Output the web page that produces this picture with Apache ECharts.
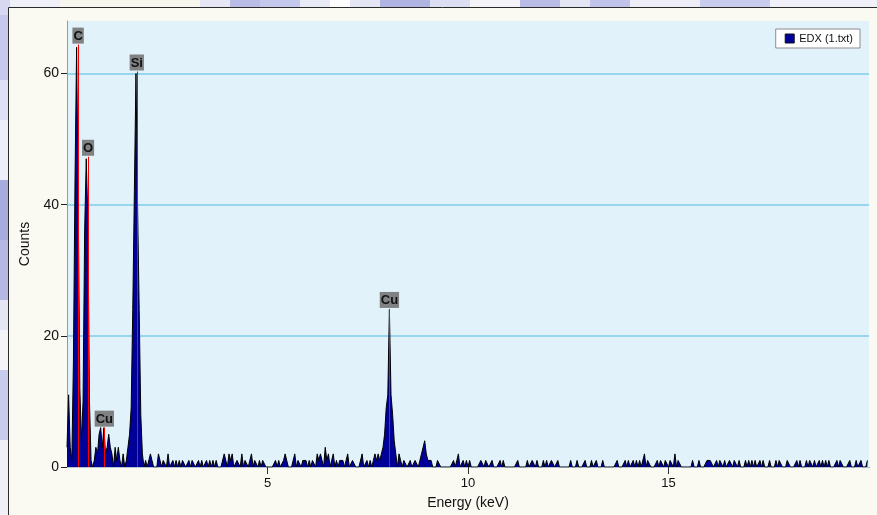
<!DOCTYPE html>
<html>
<head>
<meta charset="utf-8">
<script src="https://cdn.jsdelivr.net/npm/echarts@6/dist/echarts.min.js"></script>
<style>
  html, body { margin: 0; padding: 0; background: #fafaf2; }
  #chart { width: 877px; height: 515px; }
</style>
</head>
<body>
<div id="chart"></div>
<script>
// EDX spectrum: counts per 0.04 keV channel, one row per keV (25 channels each)
const channelWidthKeV = 0.04;
const countsByKeV = [
  [3, 11, 3, 1, 16, 44, 64, 40, 12, 4, 10, 36, 47, 38, 10, 1, 0, 1, 3, 2, 5, 6, 3, 6, 2],
  [3, 5, 3, 2, 0, 3, 1, 3, 1, 0, 2, 0, 1, 3, 5, 9, 24, 42, 60, 40, 24, 8, 2, 0, 1],
  [0, 0, 2, 1, 0, 0, 0, 2, 1, 0, 1, 1, 0, 2, 0, 0, 1, 0, 1, 0, 1, 0, 1, 1, 0],
  [0, 1, 0, 1, 1, 0, 0, 1, 0, 1, 0, 0, 1, 0, 1, 0, 1, 0, 1, 0, 0, 0, 0, 2, 1],
  [0, 2, 1, 2, 0, 0, 1, 1, 0, 2, 0, 1, 1, 0, 0, 2, 0, 1, 1, 0, 1, 0, 1, 1, 0],
  [0, 0, 0, 0, 0, 1, 0, 1, 0, 0, 1, 2, 1, 0, 0, 0, 0, 2, 0, 1, 1, 0, 1, 1, 1],
  [0, 1, 0, 1, 1, 0, 2, 1, 2, 1, 0, 3, 1, 2, 0, 1, 2, 0, 1, 0, 1, 1, 1, 0, 0],
  [2, 0, 0, 1, 1, 0, 0, 0, 0, 2, 0, 0, 1, 0, 1, 0, 1, 2, 1, 2, 1, 2, 3, 5, 9],
  [11, 24, 11, 8, 4, 2, 0, 2, 1, 0, 1, 1, 0, 0, 1, 0, 0, 1, 1, 0, 1, 2, 3, 4, 2],
  [1, 1, 1, 0, 0, 0, 1, 1, 0, 0, 0, 0, 0, 0, 0, 0, 1, 0, 1, 2, 0, 0, 1, 0, 1],
  [0, 1, 0, 0, 0, 0, 0, 0, 1, 1, 0, 1, 1, 0, 0, 1, 0, 0, 0, 0, 1, 0, 1, 0, 0],
  [0, 0, 0, 0, 0, 0, 1, 0, 0, 0, 0, 0, 1, 0, 0, 1, 1, 0, 1, 0, 0, 0, 1, 0, 1],
  [0, 0, 1, 1, 0, 0, 1, 0, 0, 0, 0, 0, 0, 0, 1, 0, 0, 0, 1, 0, 0, 0, 0, 1, 0],
  [0, 0, 1, 0, 0, 1, 0, 0, 0, 1, 0, 0, 0, 0, 0, 0, 0, 0, 1, 0, 0, 0, 0, 1, 0],
  [1, 0, 0, 1, 0, 1, 0, 1, 0, 0, 2, 0, 1, 1, 0, 0, 0, 0, 1, 0, 1, 1, 0, 1, 1],
  [0, 1, 1, 0, 2, 0, 1, 1, 0, 0, 0, 0, 0, 0, 0, 1, 0, 0, 0, 1, 0, 0, 0, 0, 1],
  [1, 1, 1, 0, 0, 1, 0, 1, 1, 0, 1, 0, 0, 1, 1, 0, 1, 1, 0, 1, 0, 0, 0, 1, 0],
  [1, 0, 1, 0, 1, 0, 0, 1, 0, 1, 0, 0, 0, 1, 0, 0, 0, 1, 0, 1, 1, 0, 0, 0, 1],
  [1, 0, 0, 0, 0, 1, 0, 1, 0, 0, 0, 1, 0, 1, 1, 0, 1, 0, 0, 1, 0, 1, 0, 1, 0],
  [1, 0, 0, 0, 0, 1, 0, 1, 1, 0, 0, 0, 0, 1, 0, 0, 0, 1, 0, 0, 1, 0, 0, 0, 1]
];

// Element line markers (keV) with their marker heights (counts)
const peakNames = ['C', 'O', 'Cu', 'Si', 'Cu'];
const peakEnergies = [0.277, 0.525, 0.93, 1.74, 8.04];
const peakHeights = [64.4, 47.3, 6.0, 60.3, 24.1];

const seriesName = 'EDX (1.txt)';
const xTickValues = [5, 10, 15];
const yTickValues = [0, 20, 40, 60];

const spectrum = countsByKeV.flat().map((c, i) => [+(i * channelWidthKeV).toFixed(2), c]);

// Mottled page margin around the chart frame: [x, y, w, h, colour]
const marginBlocks = [
  [0, 0, 10, 7, '#d8d8f0'], [10, 0, 50, 7, '#f0f0f8'], [60, 0, 140, 7, '#f6f6ee'],
  [200, 0, 30, 7, '#e6e6f4'], [230, 0, 30, 7, '#b8bce6'], [260, 0, 40, 7, '#c4c8ec'],
  [300, 0, 30, 7, '#e8eaf6'], [330, 0, 20, 7, '#fdfdfd'], [350, 0, 30, 7, '#e4e6f4'],
  [380, 0, 50, 7, '#b0b4e2'], [430, 0, 40, 7, '#dcdff2'], [470, 0, 50, 7, '#f4f4f8'],
  [520, 0, 40, 7, '#b8bce6'], [560, 0, 30, 7, '#e4e6f4'], [590, 0, 40, 7, '#c0c4ea'],
  [630, 0, 70, 7, '#eeeef8'], [700, 0, 70, 7, '#c8cced'], [770, 0, 107, 7, '#f0f0f8'],
  [0, 7, 8, 8, '#d8d8f0'], [0, 15, 8, 65, '#c8c8ec'], [0, 80, 8, 40, '#e0e0f4'],
  [0, 120, 8, 60, '#eceef8'], [0, 180, 8, 60, '#a8acdc'], [0, 240, 8, 60, '#b4b8e2'],
  [0, 300, 8, 30, '#e4e6f4'], [0, 330, 8, 40, '#f4f4f8'], [0, 370, 8, 70, '#c8ccec'],
  [0, 440, 8, 75, '#eef0f6']
];

const chart = echarts.init(document.getElementById('chart'), null, { renderer: 'canvas' });

const graphic = marginBlocks.map(b => ({
  type: 'rect', silent: true, z: -10,
  shape: { x: b[0], y: b[1], width: b[2], height: b[3] },
  style: { fill: b[4] }
})).concat([
  { type: 'line', silent: true, shape: { x1: 8.5, y1: 7.5, x2: 877, y2: 7.5 }, style: { stroke: '#2a2a2a', lineWidth: 1 } },
  { type: 'line', silent: true, shape: { x1: 8.5, y1: 7.5, x2: 8.5, y2: 515 }, style: { stroke: '#2a2a2a', lineWidth: 1 } }
]);

const option = {
  backgroundColor: '#fafaf2',
  animation: false,
  textStyle: { fontFamily: '"Liberation Sans", Arial, sans-serif', color: '#111' },
  graphic: graphic,
  grid: {
    left: 67, right: 8, top: 21, bottom: 48,
    show: true, backgroundColor: '#e2f2fb', borderWidth: 0
  },
  legend: {
    data: [{ name: seriesName, icon: 'rect' }],
    right: 17, top: 29,
    backgroundColor: '#ffffff', borderColor: '#8c8c8c', borderWidth: 1,
    padding: [4, 7, 4, 9],
    itemWidth: 9, itemHeight: 9, itemGap: 4,
    itemStyle: { color: '#000099', borderColor: '#111', borderWidth: 1 },
    textStyle: { fontSize: 11, color: '#111', padding: [1, 0, 0, 0] },
    selectedMode: false
  },
  xAxis: [
    {
      type: 'value', min: 0, max: 20,
      name: 'Energy (keV)', nameLocation: 'middle', nameGap: 29,
      nameTextStyle: { fontSize: 14, color: '#111' },
      axisLine: { show: true, onZero: false, lineStyle: { color: '#000', width: 1 } },
      axisTick: { show: true, length: 7, customValues: xTickValues, lineStyle: { color: '#333' } },
      axisLabel: { customValues: xTickValues, fontSize: 13, color: '#111', margin: 10 },
      splitLine: { show: false }
    },
    {
      type: 'value', min: 0, max: 20, position: 'top',
      axisLine: { show: true, lineStyle: { color: '#b4c4cc', width: 1 } },
      axisTick: { show: false }, axisLabel: { show: false }, splitLine: { show: false }
    }
  ],
  yAxis: [
    {
      type: 'value', min: 0, max: 68, interval: 20,
      name: 'Counts', nameLocation: 'middle', nameGap: 31, nameRotate: 90,
      nameTextStyle: { fontSize: 14, color: '#111' },
      axisLine: { show: false },
      axisTick: { show: true, length: 6, customValues: yTickValues, lineStyle: { color: '#222' } },
      axisLabel: { customValues: yTickValues, fontSize: 14, color: '#111', margin: 8 },
      splitLine: { show: true, showMinLine: false, showMaxLine: true, lineStyle: { color: '#7dcdea', width: 1.5 } }
    },
    {
      type: 'value', min: 0, max: 68, position: 'right',
      axisLine: { show: true, lineStyle: { color: '#8d9ca5', width: 1 } },
      axisTick: { show: false }, axisLabel: { show: false }, splitLine: { show: false }
    }
  ],
  series: [
    {
      name: seriesName,
      type: 'line',
      data: spectrum,
      showSymbol: false,
      symbol: 'none',
      smooth: false,
      lineStyle: { color: '#000', width: 1 },
      itemStyle: { color: '#000099' },
      areaStyle: { color: '#000099', opacity: 1 },
      emphasis: { disabled: true },
      markLine: {
        silent: true,
        symbol: ['none', 'none'],
        animation: false,
        lineStyle: { color: '#ff0000', width: 1, type: 'solid' },
        emphasis: { disabled: true },
        label: {
          show: true, position: 'end', distance: 1,
          formatter: p => p.name,
          color: '#111', fontSize: 13, fontWeight: 'bold',
          backgroundColor: '#7f8183', padding: [2, 1, 1, 1]
        },
        data: peakEnergies.map((e, i) => [
          { name: peakNames[i], coord: [e, 0] },
          { coord: [e, peakHeights[i]] }
        ])
      }
    }
  ]
};

chart.setOption(option);
</script>
</body>
</html>
